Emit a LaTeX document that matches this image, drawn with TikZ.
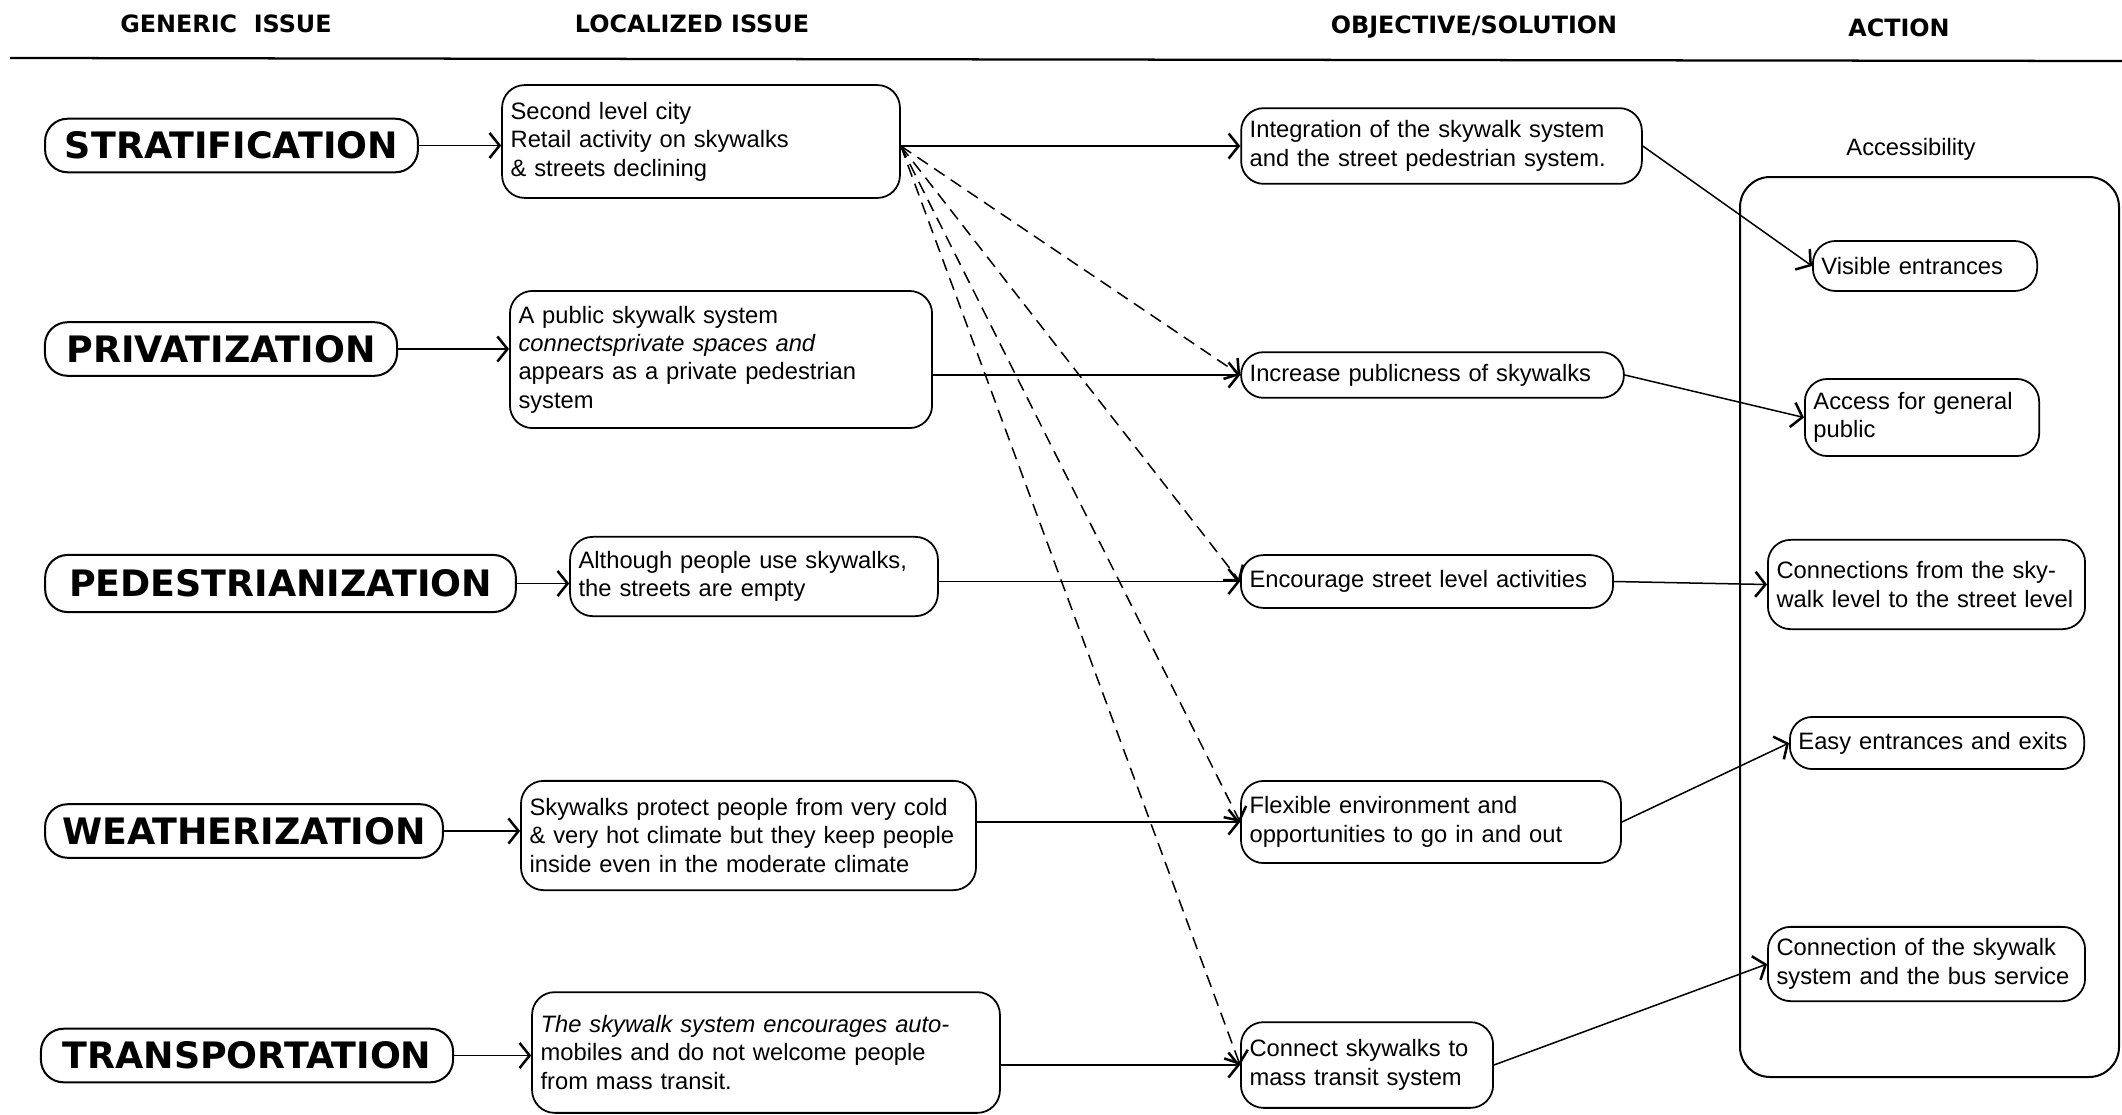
\documentclass[tikz,border=0pt]{standalone}
\usepackage{fontspec}
\setmainfont{Liberation Sans}
\newfontfamily\headfont{DejaVu Sans}
\usetikzlibrary{arrows.meta}

\tikzset{
  issue/.style={draw, line width=0.8pt, rounded corners=9pt, inner xsep=0pt,
    minimum height=0.75cm, font=\headfont\bfseries\fontsize{14.5}{16}\selectfont},
  box/.style={draw, line width=0.7pt, rounded corners=9pt, align=left,
    inner xsep=0.12cm, inner ysep=2pt, font=\fontsize{9.45}{11.3}\selectfont},
  colhead/.style={font=\headfont\bfseries\fontsize{9.5}{11}\selectfont},
  arr/.style={-{Straight Barb[length=4pt,width=10pt,line width=1pt]}, line width=0.6pt},
  link/.style={arr, dash pattern=on 5pt off 3pt}
}

\begin{document}
\begin{tikzpicture}[x=1.4cm,y=-1.4cm]
    \useasboundingbox (0,0) rectangle (21.22,11.14);
    %column heads
    \node[colhead] (hGen) at (2.26,0.24) {GENERIC\ \ ISSUE};
    \node[colhead] (hLoc) at (6.92,0.24) {LOCALIZED ISSUE};
    \node[colhead] (hObj) at (14.74,0.27) {OBJECTIVE/SOLUTION};
    \node[colhead] (hAct) at (18.99,0.28) {ACTION};
    \draw[line width=0.9pt] (0.10,0.58) -- (21.22,0.61);

    %generic issues
    \node[issue, minimum width=5.22cm] (gStrat) at (2.315,1.455) {STRATIFICATION};
    \node[issue, minimum width=4.93cm] (gPriv) at (2.21,3.49) {PRIVATIZATION};
    \node[issue, minimum width=6.59cm, minimum height=0.8cm] (gPed) at (2.805,5.835) {PEDESTRIANIZATION};
    \node[issue, minimum width=5.57cm] (gWeath) at (2.44,8.31) {WEATHERIZATION};
    \node[issue, minimum width=5.77cm] (gTrans) at (2.47,10.555) {TRANSPORTATION};

    %localized issues
    \node[box, text width=5.33cm, minimum height=1.58cm] (lStrat) at (7.01,1.415)
      {Second level city\\Retail activity on skywalks\\\& streets declining};
    \node[box, text width=5.67cm, minimum height=1.92cm] (lPriv) at (7.21,3.595)
      {A public skywalk system\\\textit{connectsprivate spaces and}\\appears as a private pedestrian\\system};
    \node[box, text width=4.91cm, minimum height=1.11cm] (lPed) at (7.54,5.765)
      {Although people use skywalks,\\the streets are empty};
    \node[box, text width=6.13cm, minimum height=1.53cm] (lWeath) at (7.485,8.355)
      {Skywalks protect people from very cold\\\& very hot climate but they keep people\\inside even in the moderate climate};
    \node[box, text width=6.31cm, minimum height=1.69cm] (lTrans) at (7.66,10.525)
      {\textit{The skywalk system encourages auto-}\\mobiles and do not welcome people\\from mass transit.};

    %objectives
    \node[box, text width=5.37cm, minimum height=1.06cm] (oInteg) at (14.415,1.46)
      {Integration of the skywalk system\\and the street pedestrian system.};
    \node[box, text width=5.12cm, minimum height=0.64cm] (oPubl) at (14.325,3.75)
      {Increase publicness of skywalks};
    \node[box, text width=4.97cm, minimum height=0.74cm] (oStreet) at (14.27,5.815)
      {Encourage street level activities};
    \node[box, text width=5.08cm, minimum height=1.15cm] (oFlex) at (14.31,8.22)
      {Flexible environment and\\opportunities to go in and out};
    \node[box, text width=3.29cm, minimum height=1.2cm] (oMass) at (13.67,10.65)
      {Connect skywalks to\\mass transit system};

    %actions
    \node[font=\fontsize{9.45}{11.3}\selectfont] (acc) at (19.11,1.49) {Accessibility};
    \draw[line width=0.8pt, rounded corners=12pt] (17.40,1.77) rectangle (21.19,10.77);
    \node[box, text width=2.90cm, minimum height=0.70cm] (aVis) at (19.25,2.66)
      {Visible entrances};
    \node[box, text width=3.04cm, minimum height=1.08cm] (aPub) at (19.22,4.175)
      {Access for general\\public};
    \node[box, text width=4.20cm, minimum height=1.25cm] (aConn) at (19.265,5.845)
      {Connections from the sky-\\walk level to the street level};
    \node[box, text width=3.88cm, minimum height=0.73cm] (aEasy) at (19.37,7.43)
      {Easy entrances and exits};
    \node[box, text width=4.20cm, minimum height=1.04cm] (aBus) at (19.265,9.64)
      {Connection of the skywalk\\system and the bus service};

    %generic -> localized
    \draw[arr] (gStrat.east) -- (gStrat.east -| lStrat.west);
    \draw[arr] (gPriv.east) -- (gPriv.east -| lPriv.west);
    \draw[arr] (gPed.east) -- (gPed.east -| lPed.west);
    \draw[arr] (gWeath.east) -- (gWeath.east -| lWeath.west);
    \draw[arr] (gTrans.east) -- (gTrans.east -| lTrans.west);

    %localized -> objective
    \coordinate (fan) at (oInteg.west -| lStrat.east);
    \draw[arr] (fan) -- (oInteg.west);
    \draw[arr] (oPubl.west -| lPriv.east) -- (oPubl.west);
    \draw[arr] (oStreet.west -| lPed.east) -- (oStreet.west);
    \draw[arr] (oFlex.west -| lWeath.east) -- (oFlex.west);
    \draw[arr] (oMass.west -| lTrans.east) -- (oMass.west);
    %stratification reaches all objectives
    \foreach \o in {oPubl,oStreet,oFlex,oMass}
      \draw[link] (fan) -- (\o.west);

    %objective -> action
    \draw[arr] (oInteg.east) -- (aVis.west);
    \draw[arr] (oPubl.east) -- (aPub.west);
    \draw[arr] (oStreet.east) -- (aConn.west);
    \draw[arr] (oFlex.east) -- (aEasy.west);
    \draw[arr] (oMass.east) -- (aBus.west);
\end{tikzpicture}
\end{document}
